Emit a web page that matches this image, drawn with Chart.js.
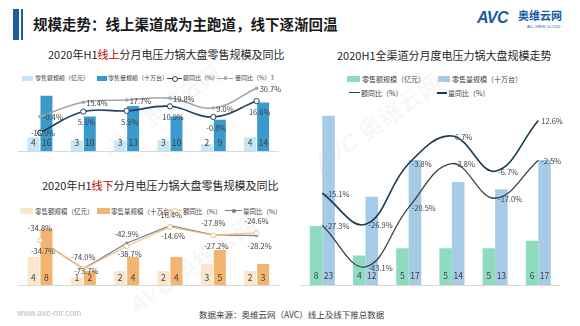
<!DOCTYPE html>
<html>
<head>
<meta charset="utf-8">
<script src="https://cdn.jsdelivr.net/npm/chart.js@4.4.0/dist/chart.umd.min.js"></script>
<style>
body { margin: 0; width: 580px; height: 326px; background: #fff; position: relative; overflow: hidden;
       font-family: "Noto Sans CJK SC", "Noto Sans", sans-serif; color: #262626; }
.abs { position: absolute; white-space: nowrap; }
.red { color: #c00000; }
.sw { position: absolute; }
canvas { position: absolute; }
.wm { position: absolute; white-space: nowrap; color: rgba(0,0,0,0.045); font-weight: bold; transform: rotate(-35deg); transform-origin: left top; }
.wm b { font-family: "Liberation Sans", sans-serif; font-style: italic; }
.wm i { display: block; font-style: normal; font-size: 5px; letter-spacing: 2px; margin-left: 50px; font-family: "Liberation Sans", sans-serif; }
</style>
</head>
<body>

<!-- watermarks -->
<div class="wm" style="left:95px;top:135px;font-size:22px;"><b>AVC</b> 奥维云网<i>ALL VIEW CLOUD</i></div>
<div class="wm" style="left:120px;top:292px;font-size:24px;"><b>AVC</b> 奥维云网<i>ALL VIEW CLOUD</i></div>
<div class="wm" style="left:305px;top:150px;font-size:24px;"><b>AVC</b> 奥维云网<i>ALL VIEW CLOUD</i></div>

<!-- header -->
<div class="abs" style="left:13px;top:9px;width:6px;height:31px;background:#1f5c9e;"></div>
<div class="abs" style="left:21px;top:9px;width:1.5px;height:31px;background:#1f5c9e;"></div>
<div class="abs" style="left:33px;top:14px;font-size:14.5px;line-height:20px;font-weight:bold;color:#1a1a1a;">规模走势：线上渠道成为主跑道，线下逐渐回温</div>
<div class="abs" style="left:477px;top:8px;font-size:16px;line-height:20px;font-weight:bold;font-style:italic;color:#1d5aa6;font-family:'Liberation Sans',sans-serif;letter-spacing:-0.5px;">AVC</div>
<div class="abs" style="left:518px;top:9px;font-size:11px;line-height:13px;font-weight:bold;color:#1d5aa6;">奥维云网</div>
<div class="abs" style="left:527px;top:24px;font-size:4px;line-height:5px;color:#1d5aa6;font-family:'Liberation Sans',sans-serif;">ALL VIEW CLOUD</div>

<!-- online chart title + legend -->
<div class="abs" style="left:48px;top:47px;font-size:11px;line-height:15px;">2020年H1<span class="red">线上</span>分月电压力锅大盘零售规模及同比</div>
<div class="sw" style="left:22px;top:75.5px;width:11px;height:5px;background:#c5e6f5;"></div>
<div class="abs" style="left:35px;top:74px;font-size:6px;line-height:8px;color:#404040;">零售额规模（亿元）</div>
<div class="sw" style="left:97px;top:75.5px;width:10px;height:5px;background:#3a9acb;"></div>
<div class="abs" style="left:108px;top:74px;font-size:6px;line-height:8px;color:#404040;">零售量规模（十万台）</div>
<div class="sw" style="left:167px;top:77.5px;width:15px;height:1.2px;background:#243f5c;"></div>
<div class="sw" style="left:172px;top:75.5px;width:4px;height:4px;border:1px solid #243f5c;border-radius:50%;background:#fff;"></div>
<div class="abs" style="left:183px;top:74px;font-size:6px;line-height:8px;color:#404040;">额同比（%）</div>
<div class="sw" style="left:217px;top:77.5px;width:16px;height:1.2px;background:#a6a6a6;"></div>
<div class="sw" style="left:223.5px;top:76.2px;width:3.5px;height:3.5px;border-radius:50%;background:#a6a6a6;"></div>
<div class="abs" style="left:235px;top:74px;font-size:6px;line-height:8px;color:#404040;">量同比（%）3</div>

<!-- offline chart title + legend -->
<div class="abs" style="left:42px;top:177.5px;font-size:11px;line-height:15px;">2020年H1<span class="red">线下</span>分月电压力锅大盘零售规模及同比</div>
<div class="sw" style="left:20px;top:208px;width:13px;height:5.5px;background:#fbe6cc;"></div>
<div class="abs" style="left:35px;top:206.5px;font-size:6.5px;line-height:8px;color:#404040;">零售额规模（亿元）</div>
<div class="sw" style="left:97px;top:208px;width:13px;height:5.5px;background:#f2b46e;"></div>
<div class="abs" style="left:111px;top:206.5px;font-size:6.5px;line-height:8px;color:#404040;">零售量规模（十万台）</div>
<div class="sw" style="left:167px;top:210.2px;width:15px;height:1.2px;background:#f2c28a;"></div>
<div class="sw" style="left:172px;top:208.2px;width:4px;height:4px;border:1px solid #f2c28a;border-radius:50%;background:#fff;"></div>
<div class="abs" style="left:183px;top:206.5px;font-size:6.5px;line-height:8px;color:#404040;">额同比（%）</div>
<div class="sw" style="left:225px;top:210.2px;width:17px;height:1.2px;background:#7f7f7f;"></div>
<div class="sw" style="left:232px;top:209px;width:3.5px;height:3.5px;border-radius:50%;background:#7f7f7f;"></div>
<div class="abs" style="left:243px;top:206.5px;font-size:6.5px;line-height:8px;color:#404040;">量同比（%）</div>

<!-- all-channel chart title + legend -->
<div class="abs" style="left:337px;top:47.5px;font-size:11px;line-height:15px;">2020H1全渠道分月度电压力锅大盘规模走势</div>
<div class="sw" style="left:347px;top:76.3px;width:13px;height:6px;background:#8fdbbf;"></div>
<div class="abs" style="left:362px;top:75px;font-size:7px;line-height:9px;color:#404040;">零售额规模（亿元）</div>
<div class="sw" style="left:438px;top:76.3px;width:12px;height:6px;background:#a6cbe6;"></div>
<div class="abs" style="left:452px;top:75px;font-size:7px;line-height:9px;color:#404040;">零售量规模（十万台）</div>
<div class="sw" style="left:349px;top:92px;width:11px;height:1.3px;background:#3f3f3f;"></div>
<div class="abs" style="left:361px;top:88.5px;font-size:7px;line-height:9px;color:#404040;">额同比（%）</div>
<div class="sw" style="left:437px;top:92px;width:10px;height:1.5px;background:#173b52;"></div>
<div class="abs" style="left:448px;top:88.5px;font-size:7px;line-height:9px;color:#404040;">量同比（%）</div>

<canvas id="onlineChart" width="290" height="100" style="left:0;top:70px;"></canvas>
<canvas id="offlineChart" width="290" height="106" style="left:0;top:200px;"></canvas>
<canvas id="totalChart" width="290" height="210" style="left:290px;top:96px;"></canvas>

<!-- footer -->
<div class="abs" style="left:17px;top:308px;font-size:8.5px;line-height:11px;color:#bdbdbd;font-family:'Liberation Sans',sans-serif;">www.avc-mr.com</div>
<div class="abs" style="left:199px;top:308.5px;font-size:8.5px;line-height:11px;color:#404040;">数据来源：奥维云网（AVC）线上及线下推总数据</div>

<script>
var months = ["20.01", "20.02", "20.03", "20.04", "20.05", "20.06"];

// 线上
var onlineAmount = [4, 3, 3, 3, 2, 4];
var onlineVolume = [16, 10, 13, 10, 9, 14];
var onlineAmountYoy = [-18.0, 5.1, 5.9, 10.9, -0.8, 16.6];
var onlineVolumeYoy = [-0.4, 15.4, 17.7, 19.8, 9.0, 30.7];

// 线下
var offlineAmount = [4, 1, 2, 2, 3, 2];
var offlineVolume = [8, 2, 4, 4, 5, 3];
var offlineAmountYoy = [-34.8, -74.0, -42.9, -16.4, -27.8, -24.6];
var offlineVolumeYoy = [-34.7, -73.7, -38.7, -14.6, -27.2, -28.2];

// 全渠道
var totalAmount = [8, 4, 5, 5, 5, 6];
var totalVolume = [23, 12, 17, 14, 13, 17];
var totalAmountYoy = [-27.3, -43.1, -20.5, -3.8, -17.0, -2.5];
var totalVolumeYoy = [-15.1, -26.9, -3.8, 6.7, -6.7, 12.6];

var FONT = '"Noto Sans CJK SC", "Noto Sans", sans-serif';

function $(id) { return document.getElementById(id); }

// data labels: bar values near the base, percentages next to the points
var valueLabels = {
    id: 'valueLabels',
    afterDatasetsDraw: function (chart, args, opts) {
        var ctx = chart.ctx;
        var bottom = chart.chartArea.bottom;
        chart.data.datasets.forEach(function (ds, i) {
            if (!ds.labelPos) return;
            var meta = chart.getDatasetMeta(i);
            ctx.save();
            ctx.fillStyle = '#404040';
            ctx.textBaseline = 'middle';
            meta.data.forEach(function (el, j) {
                var v = ds.data[j];
                var x = el.x, y = el.y;
                ctx.textAlign = 'center';
                if (ds.labelPos === 'base') {
                    ctx.font = '8.5px ' + FONT;
                    ctx.fillText(String(v), x, bottom - opts.baseOffset);
                    return;
                }
                ctx.font = '7.5px ' + FONT;
                var text = v.toFixed(1) + '%';
                if (ds.labelPos === 'right') {
                    ctx.textAlign = 'left';
                    x += 3;
                    y += 1;
                } else if (ds.labelPos === 'below') {
                    x += 3;
                    // keep clear of the bar value labels
                    y = Math.min(y + 11, bottom - opts.belowLimit);
                } else if (ds.labelPos === 'above') {
                    y -= 12;
                }
                ctx.fillText(text, x, y);
            });
            ctx.restore();
        });
    }
};

function barSet(label, data, color, catPct, barPct) {
    return {
        type: 'bar', label: label, data: data, yAxisID: 'y', order: 2,
        backgroundColor: color, categoryPercentage: catPct, barPercentage: barPct,
        labelPos: 'base'
    };
}

function lineSet(label, data, color, width, tension, point, labelPos) {
    return {
        type: 'line', label: label, data: data, yAxisID: 'y2', order: 1,
        borderColor: color, borderWidth: width, tension: tension, clip: false,
        pointRadius: point ? point.r : 0,
        pointBackgroundColor: point ? point.fill : color,
        pointBorderColor: color, pointBorderWidth: point ? point.bw : 0,
        labelPos: labelPos
    };
}

function comboChart(ctx, datasets, pad, tickPad, yMax, y2Min, y2Max, labelOpts) {
    return new Chart(ctx, {
        data: { labels: months, datasets: datasets },
        options: {
            responsive: false,
            animation: false,
            layout: { padding: pad, autoPadding: false },
            plugins: {
                legend: { display: false },
                tooltip: { enabled: false },
                valueLabels: labelOpts
            },
            scales: {
                x: {
                    grid: { display: false },
                    border: { display: true, color: '#d9d9d9', width: 1 },
                    ticks: { color: '#404040', font: { size: 9, family: FONT }, padding: tickPad, maxRotation: 0 },
                    afterFit: function (s) { s.height = 14; }
                },
                y: { display: false, min: 0, max: yMax },
                y2: { display: false, min: y2Min, max: y2Max }
            }
        },
        plugins: [valueLabels]
    });
}

var onlineChart = comboChart($('onlineChart'), [
    barSet('零售额规模（亿元）', onlineAmount, '#c5e6f5', 0.6, 0.92),
    barSet('零售量规模（十万台）', onlineVolume, '#3a9acb', 0.6, 0.92),
    lineSet('额同比（%）', onlineAmountYoy, '#243f5c', 1.6, 0.4, { r: 2.6, fill: '#fff', bw: 1 }, 'below'),
    lineSet('量同比（%）', onlineVolumeYoy, '#a6a6a6', 1.6, 0.4, { r: 1.8, fill: '#a6a6a6', bw: 0 }, 'right')
], { left: 18.3, right: 11.7, top: 17, bottom: 5 }, 4.5, 18.5, -38, 32, { baseOffset: 8, belowLimit: 18 });

var offlineChart = comboChart($('offlineChart'), [
    barSet('零售额规模（亿元）', offlineAmount, '#fbe6cc', 0.6, 0.92),
    barSet('零售量规模（十万台）', offlineVolume, '#f2b46e', 0.6, 0.92),
    lineSet('额同比（%）', offlineAmountYoy, '#f2c28a', 1.3, 0, { r: 2.4, fill: '#fff', bw: 1 }, 'above'),
    lineSet('量同比（%）', offlineVolumeYoy, '#7f7f7f', 1.3, 0, { r: 1.6, fill: '#7f7f7f', bw: 0 }, 'below')
], { left: 18.3, right: 11.7, top: 15, bottom: 7 }, 6, 10, -96, 0, { baseOffset: 7, belowLimit: 14 });

var totalChart = comboChart($('totalChart'), [
    barSet('零售额规模（亿元）', totalAmount, '#8fdbbf', 0.58, 1),
    barSet('零售量规模（十万台）', totalVolume, '#a6cbe6', 0.58, 1),
    lineSet('额同比（%）', totalAmountYoy, '#3f3f3f', 1.3, 0.4, null, 'right'),
    lineSet('量同比（%）', totalVolumeYoy, '#173b52', 1.6, 0.4, null, 'right')
], { left: 10.7, right: 20.1, top: 5, bottom: 7 }, 5, 25, -50, 20, { baseOffset: 9, belowLimit: 14 });
</script>
</body>
</html>
